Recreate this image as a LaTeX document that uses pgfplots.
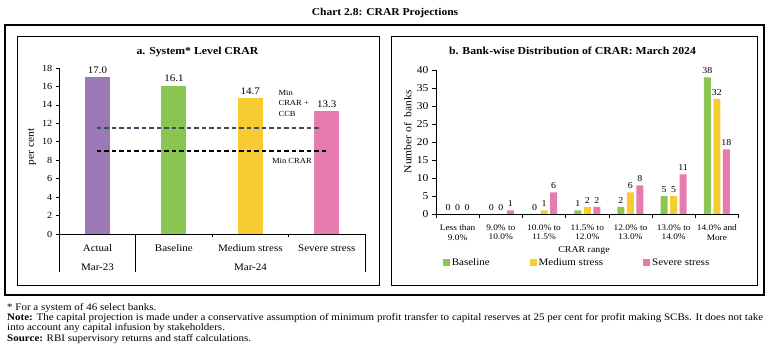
\documentclass[border=0pt]{standalone}
\usepackage{fontspec}
\setmainfont{Liberation Serif}[FakeStretch=1.1]
\usepackage{pgfplots}
\pgfplotsset{compat=1.18}
\definecolor{cpur}{HTML}{9B79B5}
\definecolor{cgrn}{HTML}{8BC653}
\definecolor{cyel}{HTML}{F7CC33}
\definecolor{cpnk}{HTML}{E67BAF}
\definecolor{cccb}{HTML}{3F4A5C}
\pgfplotsset{sqleg/.style={legend image code/.code={\fill[##1] (0pt,-3.5pt) rectangle (7pt,3.5pt);}}}
\newcommand{\fs}[1]{\fontsize{#1}{1.15\dimexpr #1pt\relax}\selectfont}
\begin{document}
\begin{tikzpicture}[x=1pt,y=1pt]
\useasboundingbox (0,0) rectangle (770,353);
\draw[line width=1.1pt] (5,58) rectangle (764,328);
\draw[line width=0.8pt] (17,67.5) rectangle (379,317);
\draw[line width=0.8pt] (391,67.5) rectangle (757,317);
\node[font=\bfseries\fs{10.5}] at (385,340) {Chart 2.8: CRAR Projections};
\node[font=\bfseries\fs{10.7}] at (197.5,301) {a. System* Level CRAR};
\node[font=\bfseries\fs{10.7}] at (572.5,302) {b. Bank-wise Distribution of CRAR: March 2024};

% ---------- panel a ----------
\begin{axis}[
  at={(59.3pt,119pt)}, anchor=south west,
  scale only axis, width=305.7pt, height=166pt,
  xmin=-0.5, xmax=3.5, ymin=0, ymax=18,
  axis x line=bottom, axis y line=left,
  axis line style={-, black, line width=0.6pt},
  tick style={black, line width=0.6pt},
  tick align=outside, major tick length=3.5pt,
  ytick={0,2,...,18},
  xtick={-0.5,0.5,1.5,2.5},
  xticklabels={Actual,Baseline,Medium stress,Severe stress},
  xticklabel style={xshift=38.2pt, yshift=-4pt, font=\fs{10}},
  extra x ticks={-0.5,0.5,3.5}, extra x tick labels={},
  extra x tick style={major tick length=38pt},
  yticklabel style={font=\fs{9.3}},
  /pgf/number format/assume math mode=true,
  clip=false,
]
\addplot[ybar, bar width=25pt, bar shift=0pt, fill=cpur, draw=none,
  nodes near coords, nodes near coords style={font=\fs{10}, /pgf/number format/.cd, fixed, fixed zerofill, precision=1, assume math mode=true}]
  coordinates {(0,17.0)};
\addplot[ybar, bar width=25pt, bar shift=0pt, fill=cgrn, draw=none,
  nodes near coords, nodes near coords style={font=\fs{10}, /pgf/number format/.cd, fixed, fixed zerofill, precision=1, assume math mode=true}]
  coordinates {(1,16.1)};
\addplot[ybar, bar width=25pt, bar shift=0pt, fill=cyel, draw=none,
  nodes near coords, nodes near coords style={font=\fs{10}, /pgf/number format/.cd, fixed, fixed zerofill, precision=1, assume math mode=true}]
  coordinates {(2,14.7)};
\addplot[ybar, bar width=25pt, bar shift=0pt, fill=cpnk, draw=none,
  nodes near coords, nodes near coords style={font=\fs{10}, /pgf/number format/.cd, fixed, fixed zerofill, precision=1, assume math mode=true}]
  coordinates {(3,13.3)};
\addplot[cccb, line width=1.5pt, dash pattern=on 4.5pt off 3pt, mark=none] coordinates {(-0.01,11.5) (2.934,11.5)};
\addplot[black, line width=1.5pt, dash pattern=on 4.5pt off 3pt, mark=none] coordinates {(-0.01,9) (3.02,9)};
\node[rotate=90, font=\fs{10.4}] at (axis description cs:-0.089,0.524) {per cent};
\end{axis}
\node[font=\fs{10}] at (97.5,85.3) {Mar-23};
\node[font=\fs{10}] at (250.5,85.3) {Mar-24};
\node[font=\fs{7.8}, anchor=west] at (268.5,192) {Min CRAR};
\node[font=\fontsize{7.8}{10.5}\selectfont, anchor=west, align=left] at (275,249.7) {Min\\CRAR +\\CCB};

% ---------- panel b ----------
\begin{axis}[
  at={(436pt,139pt)}, anchor=south west,
  scale only axis, width=302.5pt, height=143.7pt,
  xmin=-0.5, xmax=6.5, ymin=0, ymax=40,
  ybar=2.5pt, bar width=7pt,
  axis x line=bottom, axis y line=left,
  axis line style={-, black, line width=0.6pt},
  tick style={black, line width=0.6pt},
  tick align=outside, major tick length=4pt,
  ytick={0,5,...,40},
  xtick={-0.5,0.5,1.5,2.5,3.5,4.5,5.5},
  xticklabels={{Less than\\9.0\%},{9.0\% to\\10.0\%},{10.0\% to\\11.5\%},{11.5\% to\\12.0\%},{12.0\% to\\13.0\%},{13.0\% to\\14.0\%},{14.0\% and\\More}},
  xticklabel style={xshift=21.6pt, yshift=-3.5pt, align=center, font=\fontsize{8.5}{9.3}\selectfont},
  extra x ticks={6.5}, extra x tick labels={},
  yticklabel style={font=\fs{10.5}},
  /pgf/number format/assume math mode=true,
  nodes near coords,
  nodes near coords style={font=\fs{9}},
  legend columns=3,
  legend style={draw=none, fill=none, at={(0.012,-0.339)}, anchor=west, font=\fs{10},
    /tikz/every even column/.append style={column sep=38pt}},
  clip=false,
]
\addplot[fill=cgrn, draw=none, sqleg] coordinates {(0,0) (1,0) (2,0) (3,1) (4,2) (5,5) (6,38)};
\addplot[fill=cyel, draw=none, sqleg] coordinates {(0,0) (1,0) (2,1) (3,2) (4,6) (5,5) (6,32)};
\addplot[fill=cpnk, draw=none, sqleg] coordinates {(0,0) (1,1) (2,6) (3,2) (4,8) (5,11) (6,18)};
\legend{Baseline,Medium stress,Severe stress}
\node[rotate=90, font=\fs{10.5}] at (axis description cs:-0.0936,0.573) {Number of\ \ banks};
\end{axis}
\node[font=\fs{9}] at (584,102.5) {CRAR range};

% ---------- footnotes ----------
\node[anchor=base west, font=\fs{10}, inner sep=0pt] at (7,42.5) {* For a system of 46 select banks.};
\node[anchor=base west, font=\fs{10}, inner sep=0pt] at (7,32.2) {\makebox[756pt][s]{\textbf{Note:} The capital projection is made under a conservative assumption of minimum profit transfer to capital reserves at 25 per cent for profit making SCBs. It does not take}};
\node[anchor=base west, font=\fs{10}, inner sep=0pt] at (7,22.2) {into account any capital infusion by stakeholders.};
\node[anchor=base west, font=\fs{10}, inner sep=0pt] at (7,11.9) {\textbf{Source:} RBI supervisory returns and staff calculations.};
\end{tikzpicture}
\end{document}
